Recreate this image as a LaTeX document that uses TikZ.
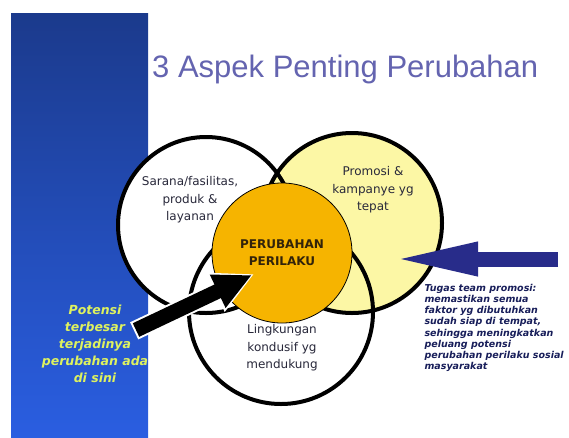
\documentclass[tikz,border=0pt]{standalone}
\usepackage{fontspec}
\setmainfont{DejaVu Sans}
\newfontfamily\judulfont{Liberation Sans}
\usetikzlibrary{arrows.meta}
\definecolor{birutua}{RGB}{27,58,140}
\definecolor{birumuda}{RGB}{42,94,225}
\definecolor{judulcolor}{RGB}{100,100,176}
\definecolor{kuningcolor}{RGB}{252,247,165}
\definecolor{oranyecolor}{RGB}{246,180,0}
\definecolor{tekscolor}{RGB}{40,40,58}
\definecolor{hijaucolor}{RGB}{222,242,95}
\definecolor{panahcolor}{RGB}{40,44,138}
\definecolor{catatancolor}{RGB}{24,30,90}

\tikzset{
  aspek/.style={circle, inner sep=0pt},
  cincin/.style={line width=4pt, black},
  labelaspek/.style={align=center, text=tekscolor, font=\fontsize{12}{17.5}\selectfont},
}

\begin{document}
\begin{tikzpicture}[x=1pt, y=-1pt]
        % Background
        \useasboundingbox (0,0) rectangle (569,437);
        \fill[white] (0,0) rectangle (569,437);
        \shade[top color=birutua, bottom color=birumuda] (11,13) rectangle (148,437);

        % Title
        \node[anchor=base west, inner sep=0pt, text=judulcolor, font=\judulfont\fontsize{31}{36}\selectfont] (judul) at (152,77) {3 Aspek Penting Perubahan};

        % Three aspects
        \node[aspek, fill=white, minimum size=176pt] (sarana) at (206,225) {};
        \node[aspek, fill=white, minimum size=184pt] (lingkungan) at (281,312) {};
        \node[aspek, fill=kuningcolor, minimum size=180pt] (promosi) at (352,223) {};
        \draw[cincin] (sarana.center) circle[radius=88];
        \draw[cincin] (lingkungan.center) circle[radius=92];
        \draw[cincin] (promosi.center) circle[radius=90];

        % Centre
        \node[aspek, fill=oranyecolor, draw=black, line width=0.8pt, minimum size=140pt, align=center,
              text={rgb,255:red,50;green,35;blue,10}, font=\bfseries\fontsize{12}{17}\selectfont] (perilaku) at (282,253) {PERUBAHAN\\PERILAKU};

        % Labels
        \node[labelaspek] (labelSarana) at (190,200) {Sarana/fasilitas,\\produk \&\\layanan};
        \node[labelaspek] (labelPromosi) at (373,190) {Promosi \&\\kampanye yg\\tepat};
        \node[labelaspek] (labelLingkungan) at (282,348) {Lingkungan\\kondusif yg\\mendukung};

        % Notes
        \node[align=center, text=hijaucolor, font=\bfseries\itshape\fontsize{12.5}{17}\selectfont] (potensi) at (95,344)
            {Potensi\\terbesar\\terjadinya\\perubahan ada\\di sini};
        \node[anchor=west, align=left, text=catatancolor, font=\bfseries\itshape\fontsize{9.5}{11.2}\selectfont] (tugas) at (421,328)
            {Tugas team promosi:\\memastikan semua\\faktor yg dibutuhkan\\sudah siap di tempat,\\sehingga meningkatkan\\peluang potensi\\perubahan perilaku sosial\\masyarakat};

        % Arrows
        \coordinate (ekorHitam) at (136,330);
        \coordinate (ujungHitam) at (252,275);
        \draw[white, line width=19pt, -{Triangle[length=43pt,width=40pt]}, shorten >=-2.5pt, shorten <=-2pt] (ekorHitam) -- (ujungHitam);
        \draw[black, line width=15pt, -{Triangle[length=38pt,width=34pt]}] (ekorHitam) -- (ujungHitam);

        \coordinate (ekorBiru) at (558,259);
        \coordinate (ujungBiru) at (390,259);
        \draw[panahcolor, line width=15pt, -{Triangle[length=88pt,width=30pt]}] (ekorBiru) -- (ujungBiru);
\end{tikzpicture}
\end{document}
